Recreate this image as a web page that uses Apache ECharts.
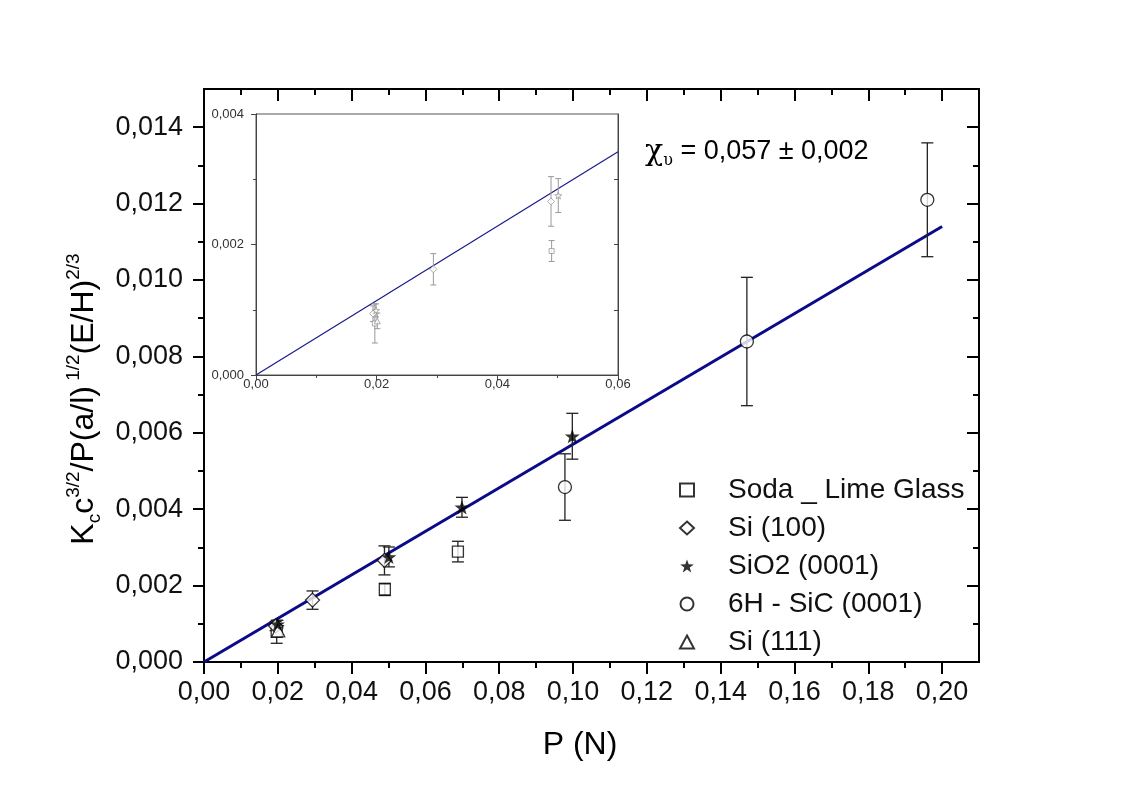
<!DOCTYPE html>
<html>
<head>
<meta charset="utf-8">
<title>Kc fit</title>
<script src="https://cdn.jsdelivr.net/npm/echarts@6/dist/echarts.min.js"></script>
<style>
  html, body { margin: 0; padding: 0; background: #fff; }
  #chart { width: 1126px; height: 789px; }
</style>
</head>
<body>
<div id="chart"></div>
<script>
// ---- data: [P (N), value, error] ----
var sodaLime = [[0.0197, 0.00079, 0.00030], [0.0490, 0.00190, 0.00016], [0.0688, 0.00289, 0.00027]]
var si100 = [[0.0194, 0.00094, 0.00012], [0.0294, 0.00162, 0.00024], [0.0489, 0.00266, 0.00038]]
var sio2 = [[0.0199, 0.00099, 0.00010], [0.0501, 0.00275, 0.00026], [0.0699, 0.00405, 0.00026], [0.0998, 0.00591, 0.00060]]
var sic6h = [[0.0978, 0.00458, 0.00087], [0.1471, 0.00839, 0.00168], [0.1960, 0.01210, 0.00149]]
var si111 = [[0.0201, 0.00083, 0.00012]]
var seriesNames = ['Soda _ Lime Glass', 'Si (100)', 'SiO2 (0001)', '6H - SiC (0001)', 'Si (111)']

// fitted line end points (main plot and inset)
var fitMain = [[0, 0], [0.20, 0.0114]]
var fitInset = [[0, 0], [0.06, 0.00342]]

// ticks
var xTicks = [0, 0.02, 0.04, 0.06, 0.08, 0.10, 0.12, 0.14, 0.16, 0.18, 0.20]
var xMinor = [0.01, 0.03, 0.05, 0.07, 0.09, 0.11, 0.13, 0.15, 0.17, 0.19]
var yTicks = [0, 0.002, 0.004, 0.006, 0.008, 0.010, 0.012, 0.014]
var yMinor = [0.001, 0.003, 0.005, 0.007, 0.009, 0.011, 0.013]
var insetXTicks = [0, 0.02, 0.04, 0.06]
var insetXMinor = [0.01, 0.03, 0.05]
var insetYTicks = [0, 0.002, 0.004]
var insetYMinor = [0.001, 0.003]
var insetYRight = [0.001, 0.002, 0.003]

var FONT = 'Liberation Sans, Arial, sans-serif'
var STAR = 'path://M0,-10 L2.35,-3.24 L9.51,-3.09 L3.8,1.24 L5.88,8.09 L0,4 L-5.88,8.09 L-3.8,1.24 L-9.51,-3.09 L-2.35,-3.24 Z'

function comma (digits) {
  return function (v) { return v.toFixed(digits).replace('.', ',') }
}

// one value axis, ticks / labels given as custom values
function axis (o) {
  return {
    type: 'value',
    gridIndex: o.grid,
    position: o.pos,
    min: o.min,
    max: o.max,
    splitLine: { show: false },
    axisLine: { show: o.line !== false, onZero: false, lineStyle: { color: o.color || '#000', width: o.lw || 2 } },
    axisTick: {
      show: true,
      inside: !!o.inside,
      length: o.len,
      customValues: o.ticks,
      lineStyle: { color: o.color || '#000', width: o.lw || 2 }
    },
    axisLabel: o.fmt ? {
      show: true,
      customValues: o.ticks,
      formatter: o.fmt,
      margin: o.margin,
      fontSize: o.fs,
      fontFamily: FONT,
      color: o.labelColor || '#111'
    } : { show: false }
  }
}

// error bars
function errorBars (capHalf, color, width) {
  return function (params, api) {
    var x = api.value(0)
    var y = api.value(1)
    var e = api.value(2)
    var top = api.coord([x, y + e])
    var bot = api.coord([x, y - e])
    var st = { stroke: color, lineWidth: width }
    return {
      type: 'group',
      children: [
        { type: 'line', shape: { x1: top[0], y1: top[1], x2: bot[0], y2: bot[1] }, style: st },
        { type: 'line', shape: { x1: top[0] - capHalf, y1: top[1], x2: top[0] + capHalf, y2: top[1] }, style: st },
        { type: 'line', shape: { x1: bot[0] - capHalf, y1: bot[1], x2: bot[0] + capHalf, y2: bot[1] }, style: st }
      ]
    }
  }
}

var mainStyle = { color: '#fff', borderColor: '#000', borderWidth: 1.3 }
var insetStyle = { color: '#fff', borderColor: '#999', borderWidth: 1 }

var chart = echarts.init(document.getElementById('chart'))
chart.setOption({
  animation: false,
  backgroundColor: '#fff',
  grid: [
    { left: 204, top: 89, right: 147, bottom: 127, show: true, borderColor: '#000', borderWidth: 2 },
    { left: 256, top: 114, right: 508, bottom: 414, show: true, borderColor: '#555', borderWidth: 1, backgroundColor: '#fff' }
  ],
  xAxis: [
    axis({ grid: 0, pos: 'bottom', min: 0, max: 0.21, ticks: xTicks, len: 12, fmt: comma(2), margin: 17, fs: 27 }),
    axis({ grid: 0, pos: 'bottom', min: 0, max: 0.21, ticks: xMinor, len: 6 }),
    axis({ grid: 0, pos: 'top', min: 0, max: 0.21, ticks: xTicks, len: 12, inside: true }),
    axis({ grid: 0, pos: 'top', min: 0, max: 0.21, ticks: xMinor, len: 6, inside: true }),
    axis({ grid: 1, pos: 'bottom', min: 0, max: 0.06, ticks: insetXTicks, len: 5, fmt: comma(2), margin: 3, fs: 13, color: '#444', lw: 1, labelColor: '#333' }),
    axis({ grid: 1, pos: 'bottom', min: 0, max: 0.06, ticks: insetXMinor, len: 3, color: '#444', lw: 1 })
  ],
  yAxis: [
    axis({ grid: 0, pos: 'left', min: 0, max: 0.015, ticks: yTicks, len: 11, fmt: comma(3), margin: 21, fs: 27 }),
    axis({ grid: 0, pos: 'left', min: 0, max: 0.015, ticks: yMinor, len: 6 }),
    axis({ grid: 0, pos: 'right', min: 0, max: 0.015, ticks: yTicks, len: 12, inside: true }),
    axis({ grid: 0, pos: 'right', min: 0, max: 0.015, ticks: yMinor, len: 6, inside: true }),
    axis({ grid: 1, pos: 'left', min: 0, max: 0.004, ticks: insetYTicks, len: 5, fmt: comma(3), margin: 12, fs: 13, color: '#444', lw: 1, labelColor: '#333' }),
    axis({ grid: 1, pos: 'left', min: 0, max: 0.004, ticks: insetYMinor, len: 3, color: '#444', lw: 1 }),
    axis({ grid: 1, pos: 'right', min: 0, max: 0.004, ticks: insetYRight, len: 4, inside: true, color: '#444', lw: 1 })
  ],
  legend: {
    data: seriesNames,
    orient: 'vertical',
    left: 674,
    top: 471,
    itemWidth: 14,
    itemHeight: 13,
    itemGap: 10,
    formatter: '{gap|}{name}',
    textStyle: {
      fontSize: 28,
      fontFamily: FONT,
      color: '#111',
      rich: {
        gap: { width: 29 },
        name: { fontSize: 28, fontFamily: FONT, color: '#111' }
      }
    }
  },
  graphic: [
    {
      type: 'text',
      x: 84,
      y: 399,
      rotation: Math.PI / 2,
      style: {
        text: '{m|K}{sub|c}{m|c}{sup|3/2}{m|/P(a/l)}{sup| 1/2}{m|(E/H)}{sup|2/3}',
        align: 'center',
        verticalAlign: 'middle',
        fill: '#000',
        rich: {
          m: { fontSize: 32, lineHeight: 40, fontFamily: FONT, fill: '#000', verticalAlign: 'middle' },
          sup: { fontSize: 19, lineHeight: 19, fontFamily: FONT, fill: '#000', verticalAlign: 'top' },
          sub: { fontSize: 19, lineHeight: 19, fontFamily: FONT, fill: '#000', verticalAlign: 'bottom' }
        }
      }
    },
    {
      type: 'text',
      x: 580,
      y: 745,
      style: { text: 'P (N)', font: '32px ' + FONT, fill: '#000', align: 'center', verticalAlign: 'middle' }
    },
    {
      type: 'text',
      x: 645,
      y: 152,
      style: {
        text: '{chi|χ}{sub|υ}{m| = 0,057 ± 0,002}',
        align: 'left',
        verticalAlign: 'middle',
        rich: {
          chi: { fontSize: 30, lineHeight: 34, fontFamily: 'DejaVu Serif, serif', fill: '#000', verticalAlign: 'middle' },
          sub: { fontSize: 16, lineHeight: 16, fontFamily: 'DejaVu Serif, serif', fill: '#000', verticalAlign: 'bottom' },
          m: { fontSize: 27, lineHeight: 34, fontFamily: FONT, fill: '#000', verticalAlign: 'middle' }
        }
      }
    }
  ],
  series: [
    // ---- main plot ----
    { name: 'fit', type: 'line', data: fitMain, symbol: 'none', lineStyle: { color: '#0b0b8a', width: 3 }, z: 3 },
    {
      name: 'err', type: 'custom', renderItem: errorBars(6, '#222', 1.3), z: 4, clip: true,
      data: sodaLime.concat(si100, sio2, sic6h, si111), encode: { x: 0, y: 1 }
    },
    { name: seriesNames[0], type: 'scatter', data: sodaLime, symbol: 'rect', symbolSize: 11, itemStyle: mainStyle, z: 5 },
    { name: seriesNames[1], type: 'scatter', data: si100, symbol: 'diamond', symbolSize: 14, itemStyle: mainStyle, z: 5 },
    { name: seriesNames[2], type: 'scatter', data: sio2, symbol: STAR, symbolSize: 15, symbolKeepAspect: true, itemStyle: { color: '#000' }, z: 6 },
    { name: seriesNames[3], type: 'scatter', data: sic6h, symbol: 'circle', symbolSize: 13, itemStyle: mainStyle, z: 5 },
    { name: seriesNames[4], type: 'scatter', data: si111, symbol: 'triangle', symbolSize: 13, itemStyle: mainStyle, z: 5 },
    // ---- inset ----
    { name: 'fit-inset', type: 'line', xAxisIndex: 4, yAxisIndex: 4, data: fitInset, symbol: 'none', lineStyle: { color: '#1a1a8c', width: 1.2 }, z: 3 },
    {
      name: 'err-inset', type: 'custom', xAxisIndex: 4, yAxisIndex: 4, renderItem: errorBars(3, '#999', 1), z: 4, clip: true,
      data: sodaLime.concat(si100, sio2, si111), encode: { x: 0, y: 1 }
    },
    { name: 'inset-soda', type: 'scatter', xAxisIndex: 4, yAxisIndex: 4, data: sodaLime, symbol: 'rect', symbolSize: 5, itemStyle: insetStyle, z: 5 },
    { name: 'inset-si100', type: 'scatter', xAxisIndex: 4, yAxisIndex: 4, data: si100, symbol: 'diamond', symbolSize: 7, itemStyle: insetStyle, z: 5 },
    { name: 'inset-sio2', type: 'scatter', xAxisIndex: 4, yAxisIndex: 4, data: sio2, symbol: STAR, symbolSize: 7, symbolKeepAspect: true, itemStyle: insetStyle, z: 5 },
    { name: 'inset-si111', type: 'scatter', xAxisIndex: 4, yAxisIndex: 4, data: si111, symbol: 'triangle', symbolSize: 6, itemStyle: insetStyle, z: 5 }
  ]
})
window.addEventListener('resize', function () { chart.resize() })
</script>
</body>
</html>
